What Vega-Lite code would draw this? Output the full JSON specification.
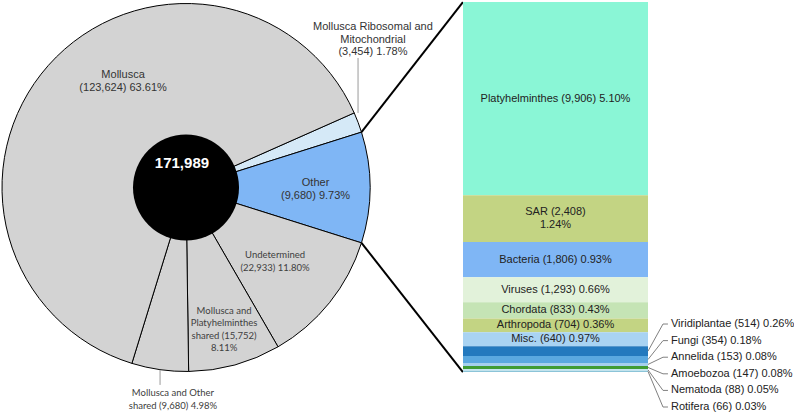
{
  "$schema": "https://vega.github.io/schema/vega-lite/v6.json",
  "width": 794,
  "height": 415,
  "autosize": {"type": "fit", "contains": "padding"},
  "padding": 0,
  "background": "white",
  "config": {
    "view": {"stroke": null},
    "axis": {"disable": true},
    "legend": {"disable": true},
    "font": "Liberation Sans"
  },
  "datasets": {
    "pie": [
      {"cat": "Mollusca Ribosomal and Mitochondrial", "count": 3454, "pct": 1.78, "ord": 1, "label": "Mollusca Ribosomal and\nMitochondrial\n(3,454) 1.78%"},
      {"cat": "Other", "count": 9680, "pct": 9.73, "ord": 2, "label": "Other\n(9,680) 9.73%"},
      {"cat": "Undetermined", "count": 22933, "pct": 11.80, "ord": 3, "label": "Undetermined\n(22,933) 11.80%"},
      {"cat": "Mollusca and Platyhelminthes shared", "count": 15752, "pct": 8.11, "ord": 4, "label": "Mollusca and\nPlatyhelminthes\nshared (15,752)\n8.11%"},
      {"cat": "Mollusca and Other shared", "count": 9680, "pct": 4.98, "ord": 5, "label": "Mollusca and Other\nshared (9,680) 4.98%"},
      {"cat": "Mollusca", "count": 123624, "pct": 63.61, "ord": 6, "label": "Mollusca\n(123,624) 63.61%"}
    ],
    "bar": [
      {"name": "Platyhelminthes", "count": 9906, "pct": 5.10, "ord": 1, "label": "Platyhelminthes (9,906) 5.10%"},
      {"name": "SAR", "count": 2408, "pct": 1.24, "ord": 2, "label": "SAR (2,408)\n1.24%"},
      {"name": "Bacteria", "count": 1806, "pct": 0.93, "ord": 3, "label": "Bacteria (1,806) 0.93%"},
      {"name": "Viruses", "count": 1293, "pct": 0.66, "ord": 4, "label": "Viruses (1,293) 0.66%"},
      {"name": "Chordata", "count": 833, "pct": 0.43, "ord": 5, "label": "Chordata (833) 0.43%"},
      {"name": "Arthropoda", "count": 704, "pct": 0.36, "ord": 6, "label": "Arthropoda (704) 0.36%"},
      {"name": "Misc.", "count": 640, "pct": 0.37, "ord": 7, "label": "Misc. (640) 0.97%"},
      {"name": "Viridiplantae", "count": 514, "pct": 0.26, "ord": 8, "label": "Viridiplantae (514) 0.26%"},
      {"name": "Fungi", "count": 354, "pct": 0.18, "ord": 9, "label": "Fungi (354) 0.18%"},
      {"name": "Annelida", "count": 153, "pct": 0.08, "ord": 10, "label": "Annelida (153) 0.08%"},
      {"name": "Amoebozoa", "count": 147, "pct": 0.08, "ord": 11, "label": "Amoebozoa (147) 0.08%"},
      {"name": "Nematoda", "count": 88, "pct": 0.05, "ord": 12, "label": "Nematoda (88) 0.05%"},
      {"name": "Rotifera", "count": 66, "pct": 0.03, "ord": 13, "label": "Rotifera (66) 0.03%"}
    ]
  },
  "layer": [
    {
      "layer": [
        {
          "data": {"name": "pie"},
          "mark": {"type": "arc", "radius": 184, "stroke": "#000000", "strokeWidth": 1},
          "encoding": {
            "theta": {"field": "pct", "type": "quantitative", "stack": true, "scale": {"range": [1.1533, 7.4365]}},
            "order": {"field": "ord", "type": "quantitative"},
            "color": {
              "field": "cat", "type": "nominal", "legend": null,
              "scale": {
                "domain": ["Mollusca Ribosomal and Mitochondrial", "Other", "Undetermined", "Mollusca and Platyhelminthes shared", "Mollusca and Other shared", "Mollusca"],
                "range": ["#D5E9F7", "#7FB6F5", "#D3D3D3", "#D3D3D3", "#D3D3D3", "#D3D3D3"]
              }
            },
            "x": {"datum": 0, "type": "quantitative", "axis": null, "scale": {"domain": [-1, 1], "range": [2, 370], "nice": false, "zero": false}},
            "y": {"datum": 0, "type": "quantitative", "axis": null, "scale": {"domain": [-1, 1], "range": [371.5, 3.5], "nice": false, "zero": false}}
          }
        },
        {
          "data": {"values": [{}]},
          "mark": {"type": "point", "filled": true, "color": "#000000", "opacity": 1, "size": 11236, "shape": "circle"},
          "encoding": {
            "x": {"datum": 0, "type": "quantitative"},
            "y": {"datum": 0, "type": "quantitative"}
          }
        },
        {
          "data": {"values": [{"total": "171,989"}]},
          "mark": {"type": "text", "color": "#FFFFFF", "fontWeight": "bold", "fontSize": 15, "align": "center", "baseline": "middle"},
          "encoding": {
            "x": {"datum": -0.022, "type": "quantitative"},
            "y": {"datum": 0.133, "type": "quantitative"},
            "text": {"field": "total"}
          }
        },
        {
          "data": {"values": [{}]},
          "mark": {"type": "rule", "color": "#000000", "strokeWidth": 2},
          "encoding": {
            "x": {"datum": 0.9537, "type": "quantitative"},
            "y": {"datum": 0.3008, "type": "quantitative"},
            "x2": {"datum": 1.505},
            "y2": {"datum": 1.008}
          }
        },
        {
          "data": {"values": [{}]},
          "mark": {"type": "rule", "color": "#000000", "strokeWidth": 2},
          "encoding": {
            "x": {"datum": 0.9537, "type": "quantitative"},
            "y": {"datum": -0.3008, "type": "quantitative"},
            "x2": {"datum": 1.505},
            "y2": {"datum": -1.003}
          }
        },
        {
          "data": {"values": [{}]},
          "mark": {"type": "rule", "color": "#9A9A9A", "strokeWidth": 1},
          "encoding": {
            "x": {"datum": 0.935, "type": "quantitative"},
            "y": {"datum": 0.704, "type": "quantitative"},
            "y2": {"datum": 0.405}
          }
        },
        {
          "data": {"values": [{}]},
          "mark": {"type": "rule", "color": "#9A9A9A", "strokeWidth": 1},
          "encoding": {
            "x": {"datum": -0.141, "type": "quantitative"},
            "y": {"datum": -0.992, "type": "quantitative"},
            "y2": {"datum": -1.073}
          }
        },
        {
          "data": {"name": "pie"},
          "transform": [{"filter": "datum.cat === 'Mollusca'"}],
          "mark": {"type": "text", "fontSize": 11, "color": "#333333", "align": "center", "baseline": "middle", "lineBreak": "\n", "lineHeight": 13},
          "encoding": {
            "x": {"datum": -0.342, "type": "quantitative"},
            "y": {"datum": 0.611, "type": "quantitative"},
            "text": {"field": "label"}
          }
        },
        {
          "data": {"name": "pie"},
          "transform": [{"filter": "datum.cat === 'Mollusca Ribosomal and Mitochondrial'"}],
          "mark": {"type": "text", "fontSize": 11, "color": "#333333", "align": "center", "baseline": "middle", "lineBreak": "\n", "lineHeight": 12.5},
          "encoding": {
            "x": {"datum": 1.016, "type": "quantitative"},
            "y": {"datum": 0.872, "type": "quantitative"},
            "text": {"field": "label"}
          }
        },
        {
          "data": {"name": "pie"},
          "transform": [{"filter": "datum.cat === 'Other'"}],
          "mark": {"type": "text", "fontSize": 11, "color": "#333333", "align": "center", "baseline": "middle", "lineBreak": "\n", "lineHeight": 12.5},
          "encoding": {
            "x": {"datum": 0.704, "type": "quantitative"},
            "y": {"datum": 0.024, "type": "quantitative"},
            "text": {"field": "label"}
          }
        },
        {
          "data": {"name": "pie"},
          "transform": [{"filter": "datum.cat === 'Undetermined'"}],
          "mark": {"type": "text", "font": "Lato", "fontSize": 9.5, "color": "#404040", "align": "center", "baseline": "middle", "lineBreak": "\n", "lineHeight": 12.5},
          "encoding": {
            "x": {"datum": 0.484, "type": "quantitative"},
            "y": {"datum": -0.367, "type": "quantitative"},
            "text": {"field": "label"}
          }
        },
        {
          "data": {"name": "pie"},
          "transform": [{"filter": "datum.cat === 'Mollusca and Platyhelminthes shared'"}],
          "mark": {"type": "text", "font": "Lato", "fontSize": 9.5, "color": "#404040", "align": "center", "baseline": "middle", "lineBreak": "\n", "lineHeight": 12.4},
          "encoding": {
            "x": {"datum": 0.207, "type": "quantitative"},
            "y": {"datum": -0.671, "type": "quantitative"},
            "text": {"field": "label"}
          }
        },
        {
          "data": {"name": "pie"},
          "transform": [{"filter": "datum.cat === 'Mollusca and Other shared'"}],
          "mark": {"type": "text", "font": "Lato", "fontSize": 9.5, "color": "#404040", "align": "center", "baseline": "middle", "lineBreak": "\n", "lineHeight": 12.7},
          "encoding": {
            "x": {"datum": -0.071, "type": "quantitative"},
            "y": {"datum": -1.117, "type": "quantitative"},
            "text": {"field": "label"}
          }
        }
      ]
    },
    {
      "data": {"name": "bar"},
      "transform": [
        {"stack": "pct", "groupby": [], "sort": [{"field": "ord", "order": "ascending"}], "as": ["v0", "v1"]},
        {"calculate": "(datum.v0 + datum.v1) / 2", "as": "mid"}
      ],
      "layer": [
        {
          "mark": {"type": "rect"},
          "encoding": {
            "x": {"datum": 0, "type": "quantitative", "axis": null, "scale": {"domain": [0, 1], "range": [463, 648], "nice": false, "zero": false}},
            "x2": {"datum": 1},
            "y": {"field": "v0", "type": "quantitative", "axis": null, "scale": {"domain": [0, 9.77], "range": [2, 372], "nice": false, "zero": false}},
            "y2": {"field": "v1"},
            "color": {
              "field": "name", "type": "nominal", "legend": null,
              "scale": {
                "domain": ["Platyhelminthes", "SAR", "Bacteria", "Viruses", "Chordata", "Arthropoda", "Misc.", "Viridiplantae", "Fungi", "Annelida", "Amoebozoa", "Nematoda", "Rotifera"],
                "range": ["#8AF6D6", "#C3D483", "#7FB6F5", "#E2F2DA", "#C5E4B5", "#C3D483", "#A9D3F2", "#2379BE", "#5AA8E0", "#A5D0EE", "#3F9C35", "#C8E8F0", "#8CC4D8"]
              }
            }
          }
        },
        {
          "transform": [{"filter": "datum.ord <= 7 && datum.ord !== 2"}],
          "mark": {"type": "text", "fontSize": 11, "color": "#222222", "align": "center", "baseline": "middle"},
          "encoding": {
            "x": {"datum": 0.5, "type": "quantitative"},
            "y": {"field": "mid", "type": "quantitative"},
            "text": {"field": "label"}
          }
        },
        {
          "transform": [{"filter": "datum.ord === 2"}],
          "mark": {"type": "text", "fontSize": 11, "color": "#222222", "align": "center", "baseline": "middle", "lineBreak": "\n", "lineHeight": 13, "dy": -6.5},
          "encoding": {
            "x": {"datum": 0.5, "type": "quantitative"},
            "y": {"field": "mid", "type": "quantitative"},
            "text": {"field": "label"}
          }
        },
        {
          "transform": [
            {"filter": "datum.ord >= 8"},
            {"calculate": "8.503 + (datum.ord - 8) * 0.4383", "as": "ly"}
          ],
          "layer": [
            {
              "mark": {"type": "rule", "color": "#808080", "strokeWidth": 1},
              "encoding": {
                "x": {"datum": 1, "type": "quantitative"},
                "x2": {"datum": 1.081},
                "y": {"field": "mid", "type": "quantitative"},
                "y2": {"field": "ly"}
              }
            },
            {
              "mark": {"type": "rule", "color": "#808080", "strokeWidth": 1},
              "encoding": {
                "x": {"datum": 1.081, "type": "quantitative"},
                "x2": {"datum": 1.108},
                "y": {"field": "ly", "type": "quantitative"}
              }
            },
            {
              "mark": {"type": "text", "fontSize": 11, "color": "#222222", "align": "left", "baseline": "middle"},
              "encoding": {
                "x": {"datum": 1.124, "type": "quantitative"},
                "y": {"field": "ly", "type": "quantitative"},
                "text": {"field": "label"}
              }
            }
          ]
        }
      ]
    }
  ],
  "resolve": {"scale": {"x": "independent", "y": "independent", "color": "independent", "theta": "independent"}}
}
